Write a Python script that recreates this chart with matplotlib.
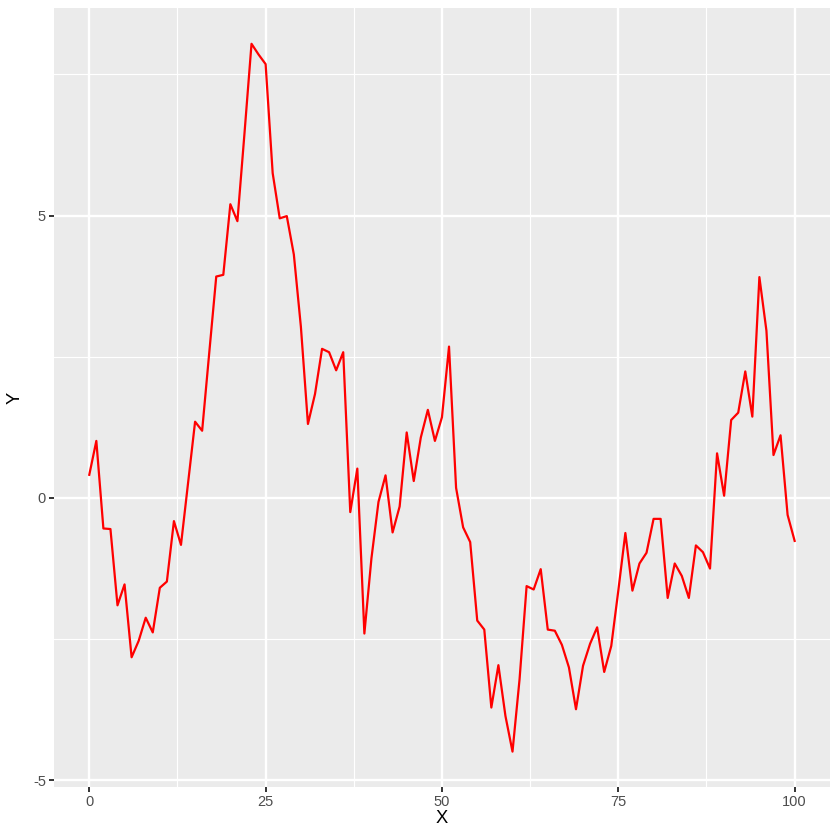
import matplotlib
matplotlib.use("Agg")
import matplotlib.pyplot as plt
from matplotlib.ticker import FixedLocator

plt.rcParams['font.family'] = ['Liberation Sans', 'DejaVu Sans']
plt.rcParams['axes.unicode_minus'] = False

x_values = list(range(0, 101))
y_values = [
    0.41, 1.01, -0.54, -0.55, -1.90, -1.53, -2.82, -2.53, -2.12, -2.38,
    -1.59, -1.48, -0.41, -0.83, 0.26, 1.35, 1.19, 2.56, 3.92, 3.95,
    5.20, 4.90, 6.45, 8.04, 7.85, 7.68, 5.75, 4.95, 4.99, 4.31,
    3.03, 1.31, 1.84, 2.64, 2.58, 2.26, 2.58, -0.25, 0.52, -2.40,
    -1.07, -0.07, 0.40, -0.61, -0.15, 1.16, 0.30, 1.07, 1.56, 1.01,
    1.43, 2.68, 0.18, -0.52, -0.78, -2.17, -2.33, -3.71, -2.96, -3.86,
    -4.49, -3.21, -1.56, -1.62, -1.26, -2.33, -2.35, -2.60, -3.00, -3.74,
    -2.97, -2.58, -2.29, -3.08, -2.62, -1.64, -0.62, -1.64, -1.16, -0.97,
    -0.37, -0.37, -1.77, -1.16, -1.38, -1.77, -0.84, -0.96, -1.25, 0.79,
    0.04, 1.38, 1.51, 2.24, 1.44, 3.91, 2.96, 0.76, 1.11, -0.30,
    -0.76,
]
x_ticks = [0, 25, 50, 75, 100]
y_ticks = [-5, 0, 5]
x_label = "X"
y_label = "Y"

fig = plt.figure(figsize=(8.4, 8.4), dpi=100)
ax = fig.add_axes([0.0643, 0.0631, 0.988 - 0.0643, 0.990 - 0.0631])
ax.set_facecolor("#EBEBEB")

ax.plot(x_values, y_values, color="#FF0000", lw=1.6, zorder=3)

xmin, xmax = min(x_values), max(x_values)
ymin, ymax = min(y_values), max(y_values)
xr = xmax - xmin
yr = ymax - ymin
ax.set_xlim(xmin - 0.05 * xr, xmax + 0.05 * xr)
ax.set_ylim(ymin - 0.05 * yr, ymax + 0.05 * yr)

ax.xaxis.set_major_locator(FixedLocator(x_ticks))
ax.yaxis.set_major_locator(FixedLocator(y_ticks))
ax.xaxis.set_minor_locator(FixedLocator([12.5, 37.5, 62.5, 87.5]))
ax.yaxis.set_minor_locator(FixedLocator([-2.5, 2.5, 7.5]))

ax.grid(which="major", color="white", lw=1.7)
ax.grid(which="minor", color="white", lw=0.85)
ax.set_axisbelow(True)

for s in ax.spines.values():
    s.set_visible(False)

ax.tick_params(which="major", length=3.3, width=1.4, color="#333333",
               labelcolor="#4D4D4D", labelsize=10.5, pad=2.5)
ax.tick_params(which="minor", length=0)

ax.set_xlabel(x_label, fontsize=13.2, color="black", va="center")
ax.set_ylabel(y_label, fontsize=13.2, color="black", va="center")
ax.xaxis.set_label_coords(0.5, -0.041)
ax.yaxis.set_label_coords(-0.050, 0.5)

fig.savefig("out.png", dpi=100, facecolor="white")
